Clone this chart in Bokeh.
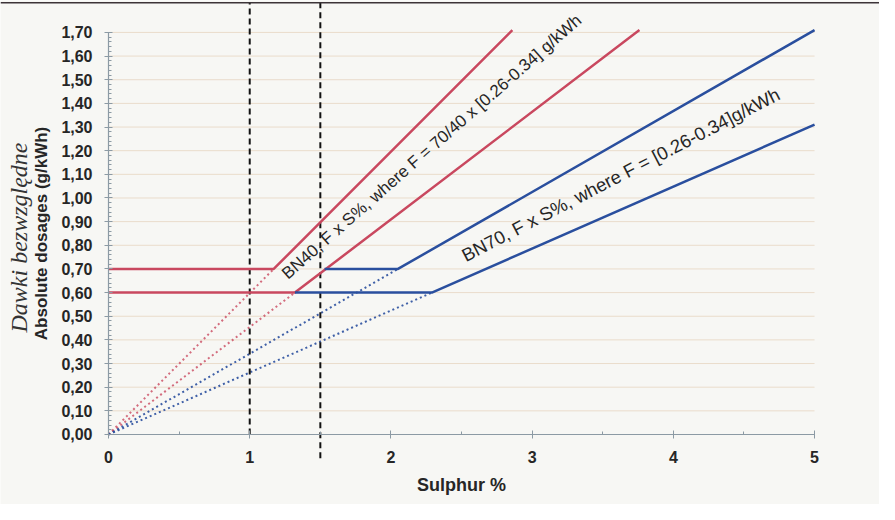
import math
from bokeh.plotting import figure
from bokeh.models import Range1d, FixedTicker, Label, Span
from bokeh.embed import file_html
from bokeh.resources import INLINE

# ---------------- data ----------------
sulphur_ticks = [0, 1, 2, 3, 4, 5]
sulphur_tick_labels = ["0", "1", "2", "3", "4", "5"]
dose_ticks = [0.0, 0.1, 0.2, 0.3, 0.4, 0.5, 0.6, 0.7, 0.8, 0.9,
              1.0, 1.1, 1.2, 1.3, 1.4, 1.5, 1.6, 1.7]
dose_tick_labels = ["0,00", "0,10", "0,20", "0,30", "0,40", "0,50", "0,60",
                    "0,70", "0,80", "0,90", "1,00", "1,10", "1,20", "1,30",
                    "1,40", "1,50", "1,60", "1,70"]

# BN40 (red) dosage curves
bn40_high_x = [0.0, 1.17, 2.86]
bn40_high_y = [0.70, 0.70, 1.71]
bn40_low_x = [0.0, 1.32, 3.76]
bn40_low_y = [0.60, 0.60, 1.71]
# BN70 (blue) dosage curves
bn70_high_x = [1.53, 2.05, 5.0]
bn70_high_y = [0.70, 0.70, 1.71]
bn70_low_x = [1.32, 2.29, 5.0]
bn70_low_y = [0.60, 0.60, 1.31]
# dotted proportional parts (F x S%) below the minimum dosage
bn40_high_dot_x = [0.0, 1.17]
bn40_high_dot_y = [0.0, 0.70]
bn40_low_dot_x = [0.0, 1.32]
bn40_low_dot_y = [0.0, 0.60]
bn70_high_dot_x = [0.0, 2.05]
bn70_high_dot_y = [0.0, 0.70]
bn70_low_dot_x = [0.0, 2.29]
bn70_low_dot_y = [0.0, 0.60]
# vertical reference lines
ref_sulphur = [1.0, 1.5]
ref_bottom = [0.0, -0.10]
ref_top = [1.825, 1.825]

bn40_text = "BN40, F x S%, where F = 70/40 x [0.26-0.34] g/kWh"
bn70_text = "BN70, F x S%, where F = [0.26-0.34]g/kWh"

# ---------------- styling ----------------
RED = "#c9485f"
BLUE = "#2a4f9e"
BG = "#f7f7f4"
TXT = "#262626"
AX = "#8c9aa4"
SANS = "Liberation Sans"

p = figure(width=879, height=504,
           x_range=Range1d(-0.765, 5.46), y_range=Range1d(-0.296, 1.835),
           toolbar_location=None, output_backend="svg", min_border=0,
           background_fill_color=BG, border_fill_color=BG,
           outline_line_color=None)

p.xgrid.visible = False
p.ygrid.visible = False

# horizontal grid lines (bounded to 0..5)
p.segment(x0=sulphur_ticks[0], x1=sulphur_ticks[-1], y0=dose_ticks, y1=dose_ticks,
          line_color="#eadccb", line_width=1)

# top border line
p.add_layout(Span(location=ref_top[0], dimension="width",
                  line_color="#3d3438", line_width=1.5))

# axes
xa = p.xaxis[0]
ya = p.yaxis[0]
xa.fixed_location = 0
ya.fixed_location = 0
xa.bounds = (sulphur_ticks[0], sulphur_ticks[-1])
ya.bounds = (dose_ticks[0], dose_ticks[-1])
xa.ticker = FixedTicker(ticks=sulphur_ticks,
                        minor_ticks=[t + 0.5 for t in sulphur_ticks[:-1]])
ya.ticker = FixedTicker(ticks=dose_ticks,
                        minor_ticks=[round(i * 0.02, 2) for i in range(86)])
xa.major_label_overrides = {t: l for t, l in zip(sulphur_ticks, sulphur_tick_labels)}
ya.major_label_overrides = {t: l for t, l in zip(dose_ticks, dose_tick_labels)}
for ax in (xa, ya):
    ax.axis_line_color = AX
    ax.axis_line_width = 1.2
    ax.major_tick_line_color = AX
    ax.minor_tick_line_color = AX
    ax.major_tick_in = 4
    ax.major_tick_out = 4
    ax.minor_tick_in = 3
    ax.minor_tick_out = 0
    ax.major_label_text_font = SANS
    ax.major_label_text_font_style = "bold"
    ax.major_label_text_font_size = "16px"
    ax.major_label_text_color = TXT
xa.major_label_standoff = 13
ya.major_label_standoff = 12

# dotted proportional lines
dot = dict(line_width=2, line_dash="2 3")
p.line(bn40_high_dot_x, bn40_high_dot_y, line_color=RED, line_alpha=0.8, **dot)
p.line(bn40_low_dot_x, bn40_low_dot_y, line_color=RED, line_alpha=0.8, **dot)
p.line(bn70_high_dot_x, bn70_high_dot_y, line_color=BLUE, line_alpha=0.9, **dot)
p.line(bn70_low_dot_x, bn70_low_dot_y, line_color=BLUE, line_alpha=0.9, **dot)

# vertical dashed references
p.segment(x0=ref_sulphur, y0=ref_bottom, x1=ref_sulphur, y1=ref_top,
          line_color="#111111", line_width=2, line_dash="6 4")

# main curves
p.line(bn40_high_x, bn40_high_y, line_color=RED, line_width=2.5)
p.line(bn40_low_x, bn40_low_y, line_color=RED, line_width=2.5)
p.line(bn70_high_x, bn70_high_y, line_color=BLUE, line_width=2.5)
p.line(bn70_low_x, bn70_low_y, line_color=BLUE, line_width=2.5)

# annotations
p.add_layout(Label(x=1.245, y=0.671, text=bn40_text, angle=math.radians(41.2),
                   text_font=SANS, text_font_size="17px", text_color=TXT,
                   text_align="left", text_baseline="alphabetic"))
p.add_layout(Label(x=2.51, y=0.753, text=bn70_text, angle=math.radians(27.4),
                   text_font=SANS, text_font_size="18.5px", text_color=TXT,
                   text_align="left", text_baseline="alphabetic"))

# axis titles
p.add_layout(Label(x=-0.637, y=0.833, text="Dawki bezwzględne", angle=math.pi / 2,
                   text_font="Liberation Serif", text_font_style="italic",
                   text_font_size="24px", text_color="#333333",
                   text_align="center", text_baseline="alphabetic"))
p.add_layout(Label(x=-0.474, y=0.85, text="Absolute dosages (g/kWh)", angle=math.pi / 2,
                   text_font=SANS, text_font_style="bold",
                   text_font_size="17px", text_color=TXT,
                   text_align="center", text_baseline="alphabetic"))
p.add_layout(Label(x=2.5, y=-0.212, text="Sulphur %",
                   text_font=SANS, text_font_style="bold",
                   text_font_size="18px", text_color=TXT,
                   text_align="center", text_baseline="alphabetic"))

open("out.html", "w").write(file_html(p, INLINE))
